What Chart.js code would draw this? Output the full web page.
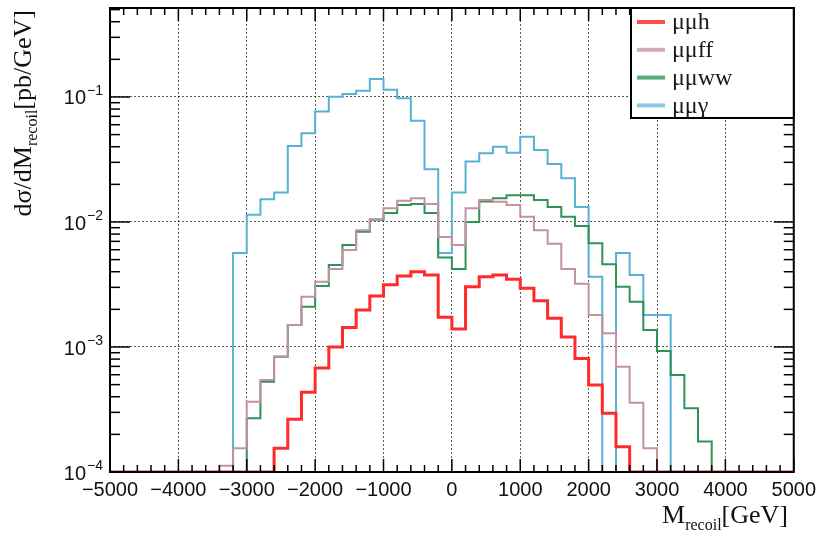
<!DOCTYPE html>
<html lang="en">
<head>
<meta charset="UTF-8">
<title>M recoil</title>
<script src="https://cdn.jsdelivr.net/npm/chart.js"></script>
<style>
  html, body { margin: 0; padding: 0; background: #fff; }
  #wrap { width: 822px; height: 544px; }
</style>
</head>
<body>
<div id="wrap"><canvas id="chart" width="822" height="544"></canvas></div>
<script>
// histogram binning: 50 bins of 200 GeV, -5000 .. 5000
const binStart = -5000;
const binWidth = 200;
const xMajorStep = 1000;

const seriesNames = ['μμh', 'μμff', 'μμww', 'μμγ'];
const seriesColors = ['#ff2b2b', '#c3919f', '#2f9257', '#55b2d2'];
const legendColors = ['#ff4d4d', '#d2aab7', '#5aac7b', '#86cae0'];

// dσ/dM per bin (0 = empty bin)
const muMuH = [
  0, 0, 0, 0, 0, 0, 0, 0, 0, 0,
  0, 0, 1.55e-4, 2.64e-4, 4.35e-4, 6.8e-4, 1.0e-3, 1.43e-3, 1.98e-3, 2.56e-3,
  3.15e-3, 3.7e-3, 4.0e-3, 3.77e-3, 1.73e-3, 1.39e-3, 3.03e-3, 3.65e-3, 3.77e-3, 3.48e-3,
  2.95e-3, 2.34e-3, 1.70e-3, 1.2e-3, 8.1e-4, 4.97e-4, 2.95e-4, 1.59e-4, 0, 0,
  0, 0, 0, 0, 0, 0, 0, 0, 0, 0
];
const muMuFF = [
  0, 0, 0, 0, 0, 0, 0, 0, 1.12e-4, 1.55e-4,
  3.65e-4, 5.45e-4, 8.4e-4, 1.5e-3, 2.52e-3, 3.33e-3, 4.2e-3, 5.97e-3, 8.6e-3, 1.05e-2,
  1.29e-2, 1.48e-2, 1.55e-2, 1.39e-2, 7.6e-3, 6.55e-3, 1.29e-2, 1.5e-2, 1.45e-2, 1.37e-2,
  1.1e-2, 8.6e-3, 6.7e-3, 4.2e-3, 3.2e-3, 1.8e-3, 1.29e-3, 6.95e-4, 3.58e-4, 1.55e-4,
  0, 0, 0, 0, 0, 0, 0, 0, 0, 0
];
const muMuWW = [
  0, 0, 0, 0, 0, 0, 0, 0, 0, 0,
  2.69e-4, 5.27e-4, 8.36e-4, 1.5e-3, 2.1e-3, 3.08e-3, 4.53e-3, 6.55e-3, 8.36e-3, 1.04e-2,
  1.18e-2, 1.37e-2, 1.39e-2, 1.18e-2, 5.2e-3, 4.2e-3, 1.0e-2, 1.46e-2, 1.55e-2, 1.64e-2,
  1.64e-2, 1.5e-2, 1.32e-2, 1.1e-2, 9.3e-3, 6.76e-3, 4.6e-3, 3.03e-3, 2.3e-3, 1.37e-3,
  9.3e-4, 5.97e-4, 3.23e-4, 1.75e-4, 0, 0, 0, 0, 0, 0
];
const muMuGamma = [
  0, 0, 0, 0, 0, 0, 0, 0, 0, 5.65e-3,
  1.14e-2, 1.52e-2, 1.72e-2, 4.05e-2, 5.13e-2, 7.64e-2, 1.005e-1, 1.057e-1, 1.12e-1, 1.39e-1,
  1.14e-1, 9.77e-2, 6.46e-2, 2.64e-2, 5.65e-3, 1.72e-2, 3.04e-2, 3.55e-2, 4.0e-2, 3.58e-2,
  4.8e-2, 3.77e-2, 2.91e-2, 2.24e-2, 1.32e-2, 3.65e-3, 0, 5.65e-3, 3.77e-3, 1.8e-3,
  1.8e-3, 0, 0, 0, 0, 0, 0, 0, 0, 0
];

const yMin = 1e-4;
const yMax = 0.515;

const serif = '"Liberation Serif", "DejaVu Serif", serif';
const sans = '"Liberation Sans", Arial, sans-serif';

// points at bin centres, plus the two outer edges, drawn with 'middle' steps
function toPoints(vals) {
  const pts = [{x: binStart, y: Math.max(vals[0], yMin)}];
  vals.forEach((v, i) => {
    pts.push({x: binStart + (i + 0.5) * binWidth, y: v > 0 ? v : yMin});
  });
  pts.push({x: binStart + vals.length * binWidth, y: Math.max(vals[vals.length - 1], yMin)});
  return pts;
}

function mantissa(v) {
  const e = Math.floor(Math.log10(v) + 1e-9);
  return {m: v / Math.pow(10, e), e: e};
}
function isDecade(v) {
  return Math.abs(mantissa(v).m - 1) < 1e-6;
}
function isWholeMantissa(v) {
  const m = mantissa(v).m;
  return Math.abs(m - Math.round(m)) < 1e-6;
}

const allSeries = [muMuH, muMuFF, muMuWW, muMuGamma];
const widths = [3, 2, 2, 2];

const rootStyle = {
  id: 'rootStyle',
  afterDatasetsDraw(chart) {
    const ctx = chart.ctx;
    const a = chart.chartArea;
    const x = chart.scales.x;
    const y = chart.scales.y;
    const seg = (x1, y1, x2, y2) => { ctx.beginPath(); ctx.moveTo(x1, y1); ctx.lineTo(x2, y2); ctx.stroke(); };
    ctx.save();
    ctx.strokeStyle = '#000';
    ctx.lineWidth = 1.5;

    // x ticks, inside, bottom and top
    for (let v = x.min; v <= x.max; v += binWidth) {
      const px = x.getPixelForValue(v);
      const len = (v % xMajorStep === 0) ? 13 : 7;
      seg(px, a.bottom, px, a.bottom - len);
      seg(px, a.top, px, a.top + len);
    }
    // y ticks, inside, left and right
    y.ticks.forEach(t => {
      if (!isWholeMantissa(t.value)) return;
      const py = y.getPixelForValue(t.value);
      const len = isDecade(t.value) ? 20 : 10;
      seg(a.left, py, a.left + len, py);
      seg(a.right, py, a.right - len, py);
    });

    // frame
    ctx.lineWidth = 2;
    ctx.strokeRect(a.left, a.top, a.right - a.left, a.bottom - a.top);

    // y tick labels 10^n
    ctx.fillStyle = '#111';
    y.ticks.forEach(t => {
      if (!isDecade(t.value)) return;
      const py = y.getPixelForValue(t.value);
      const sup = '−' + Math.abs(mantissa(t.value).e);
      ctx.font = '14px ' + sans;
      const supW = ctx.measureText(sup).width;
      const right = a.left - 7;
      ctx.textAlign = 'left';
      ctx.textBaseline = 'middle';
      ctx.fillText(sup, right - supW, py - 6);
      ctx.font = '20px ' + sans;
      ctx.textAlign = 'right';
      ctx.fillText('10', right - supW - 1, py + 2);
    });

    // legend box
    const lx = 631, ly = a.top, lw = a.right - 631, lh = 110;
    ctx.fillStyle = '#fff';
    ctx.fillRect(lx, ly, lw, lh);
    ctx.lineWidth = 2;
    ctx.strokeStyle = '#000';
    ctx.strokeRect(lx, ly, lw, lh);
    chart.data.datasets.forEach((ds, i) => {
      const ey = ly + 14 + i * 27.8;
      ctx.strokeStyle = legendColors[i];
      ctx.lineWidth = 4;
      seg(637, ey, 665, ey);
      ctx.fillStyle = '#1a1a1a';
      ctx.font = '24px ' + serif;
      ctx.textAlign = 'left';
      ctx.textBaseline = 'middle';
      ctx.fillText(ds.label, 672, ey + 1);
    });

    // x axis title: M_recoil[GeV], right aligned
    ctx.fillStyle = '#111';
    ctx.textBaseline = 'alphabetic';
    ctx.textAlign = 'left';
    ctx.font = '26px ' + serif;
    const wM = ctx.measureText('M').width;
    const wG = ctx.measureText('[GeV]').width;
    ctx.font = '16px ' + serif;
    const wR = ctx.measureText('recoil').width;
    let tx = 788 - (wM + wR + wG);
    ctx.font = '26px ' + serif;
    ctx.fillText('M', tx, 523);
    ctx.font = '16px ' + serif;
    ctx.fillText('recoil', tx + wM, 530);
    ctx.font = '26px ' + serif;
    ctx.fillText('[GeV]', tx + wM + wR, 523);

    // y axis title: dσ/dM_recoil[pb/GeV], rotated, top aligned
    ctx.save();
    ctx.translate(31, 0);
    ctx.rotate(-Math.PI / 2);
    ctx.font = '26px ' + serif;
    const w1 = ctx.measureText('dσ/dM').width;
    const w3 = ctx.measureText('[pb/GeV]').width;
    ctx.font = '16px ' + serif;
    const w2 = ctx.measureText('recoil').width;
    const endY = 10;
    let sx = -(endY + w1 + w2 + w3);
    ctx.font = '26px ' + serif;
    ctx.fillText('dσ/dM', sx, 0);
    ctx.font = '16px ' + serif;
    ctx.fillText('recoil', sx + w1, 6);
    ctx.font = '26px ' + serif;
    ctx.fillText('[pb/GeV]', sx + w1 + w2, 0);
    ctx.restore();

    ctx.restore();
  }
};

const gridDash = 'rgba(0,0,0,0.65)';

new Chart(document.getElementById('chart'), {
  type: 'line',
  data: {
    datasets: allSeries.map((vals, i) => ({
      label: seriesNames[i],
      data: toPoints(vals),
      borderColor: seriesColors[i],
      borderWidth: widths[i],
      stepped: 'middle',
      pointRadius: 0,
      fill: false
    }))
  },
  options: {
    responsive: false,
    animation: false,
    layout: { padding: { top: 8, right: 27, left: 0, bottom: 0 } },
    plugins: { legend: { display: false }, tooltip: { enabled: false } },
    scales: {
      x: {
        type: 'linear',
        min: -5000,
        max: 5000,
        afterFit: s => { s.height = 72; },
        ticks: {
          stepSize: xMajorStep,
          autoSkip: false,
          maxRotation: 0,
          padding: 6,
          color: '#111',
          font: { family: sans, size: 20 },
          callback: v => (v < 0 ? '−' + Math.abs(v) : String(v))
        },
        grid: {
          drawTicks: false,
          lineWidth: 1,
          color: c => (c.tick && Math.abs(c.tick.value) < 5000 ? gridDash : 'rgba(0,0,0,0)')
        },
        border: { display: false, dash: [2, 2] }
      },
      y: {
        type: 'logarithmic',
        min: yMin,
        max: yMax,
        afterFit: s => { s.width = 110; },
        ticks: { display: false, autoSkip: false },
        grid: {
          drawTicks: false,
          lineWidth: 1,
          color: c => (c.tick && isDecade(c.tick.value) && c.tick.value > yMin * 1.01 ? gridDash : 'rgba(0,0,0,0)')
        },
        border: { display: false, dash: [2, 2] }
      }
    }
  },
  plugins: [rootStyle]
});
</script>
</body>
</html>
